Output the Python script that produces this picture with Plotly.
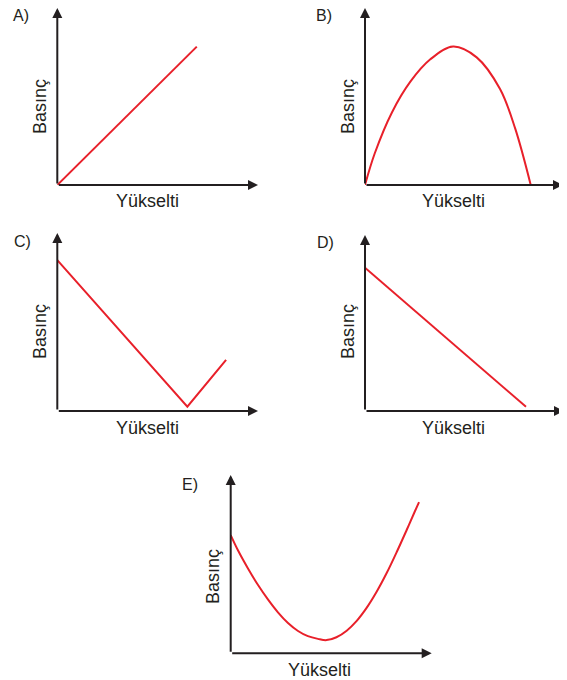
import plotly.graph_objects as go

# ---------------- data (axis units, 0..10 on each panel) ----------------
panel_labels = ["A)", "B)", "C)", "D)", "E)"]
x_title = "Yükselti"
y_title = "Basınç"

a_x = [0, 6.95]
a_y = [0, 7.82]

b_x = [0, 0.49, 1.36, 2.30, 3.30, 4.45, 5.64, 6.82, 7.58, 8.37]
b_y = [0, 1.78, 4.10, 5.85, 7.10, 7.82, 7.21, 5.42, 3.21, 0]

c_x = [0, 6.48, 8.41]
c_y = [8.48, 0.24, 2.87]

d_x = [0, 8.09]
d_y = [8.14, 0.24]

e_x = [0, 0.36, 0.86, 1.36, 1.86, 2.35, 2.85, 3.35, 3.84, 4.34, 4.77, 5.26, 5.77, 6.27, 6.77, 7.26, 7.76, 8.26, 8.76, 9.17, 9.37]
e_y = [6.63, 5.78, 4.76, 3.83, 3.01, 2.30, 1.70, 1.25, 0.96, 0.81, 0.74, 0.90, 1.27, 1.82, 2.56, 3.45, 4.50, 5.68, 6.93, 7.98, 8.48]

series_x = [a_x, b_x, c_x, d_x, e_x]
series_y = [a_y, b_y, c_y, d_y, e_y]
shapes_kind = ["linear", "spline", "linear", "linear", "spline"]

# ---------------- layout geometry (pixels in the page) ----------------
PAGE_OFF = 8          # default body margin of the html page
W, H = 567 - PAGE_OFF, 680 - PAGE_OFF
# origin x, origin y, arrow tip x, arrow tip y
geom = [
    (57.3, 185.0, 258.0, 8.0),
    (365.0, 185.0, 563.0, 8.0),
    (57.3, 411.0, 258.0, 233.0),
    (365.0, 411.0, 564.0, 235.0),
    (230.7, 653.3, 431.7, 475.0),
]
letter_pos = [(21, 16), (324, 16), (22, 241), (325, 242), (190, 484)]
ytitle_pos = [(40, 107), (348, 107), (40, 332), (348, 332), (213, 577)]
xtitle_pos = [(147, 201), (453, 201), (147, 428), (453, 428), (319, 670)]

INK = "#231f20"
RED = "#e8202a"
FONT = "Liberation Sans, Arial, Helvetica, sans-serif"


def px(x):
    return min(1.0, max(0.0, (x - PAGE_OFF) / W))


def py(y):
    return min(1.0, max(0.0, 1 - (y - PAGE_OFF) / H))


fig = go.Figure()
layout = dict(
    width=W, height=H,
    margin=dict(l=0, r=0, t=0, b=0),
    paper_bgcolor="white", plot_bgcolor="white",
    showlegend=False,
)
annotations = []

for i in range(5):
    sx = "" if i == 0 else str(i + 1)
    xr, yr = "x" + sx, "y" + sx
    ox, oy, tx, ty = geom[i]
    layout["xaxis" + sx] = dict(domain=[px(ox), px(tx)], range=[0, 10], visible=False,
                                anchor=yr, fixedrange=True)
    layout["yaxis" + sx] = dict(domain=[py(oy), py(ty)], range=[0, 10], visible=False,
                                anchor=xr, fixedrange=True)

    fig.add_trace(go.Scatter(
        x=series_x[i], y=series_y[i], mode="lines",
        line=dict(color=RED, width=2, shape=shapes_kind[i], smoothing=1.0),
        xaxis=xr, yaxis=yr, cliponaxis=False, hoverinfo="skip",
    ))

    # axis arrows
    for (x0, y0, x1, y1) in [(0, 0, 10, 0), (0, 0, 0, 10)]:
        annotations.append(dict(
            x=x1, y=y1, ax=x0, ay=y0,
            xref=xr, yref=yr, axref=xr, ayref=yr,
            showarrow=True, arrowhead=2, arrowsize=1.0, arrowwidth=2,
            arrowcolor=INK, text="",
        ))

    lx, ly = letter_pos[i]
    annotations.append(dict(x=px(lx), y=py(ly), xref="paper", yref="paper",
                            text=panel_labels[i], showarrow=False,
                            xanchor="center", yanchor="middle",
                            font=dict(family=FONT, size=16, color=INK)))
    yx, yy = ytitle_pos[i]
    annotations.append(dict(x=px(yx), y=py(yy), xref="paper", yref="paper",
                            text=y_title, showarrow=False, textangle=-90,
                            xanchor="center", yanchor="middle",
                            font=dict(family=FONT, size=18, color=INK)))
    xx, xy = xtitle_pos[i]
    annotations.append(dict(x=px(xx), y=py(xy), xref="paper", yref="paper",
                            text=x_title, showarrow=False,
                            xanchor="center", yanchor="middle",
                            font=dict(family=FONT, size=18, color=INK)))

layout["annotations"] = annotations
fig.update_layout(**layout)
fig.write_html("out.html")
